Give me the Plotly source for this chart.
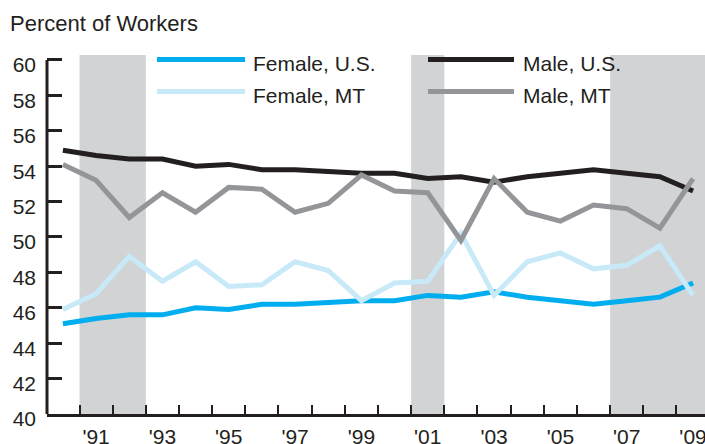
import plotly.graph_objects as go

years = list(range(1990, 2010))
female_us = [45.1, 45.4, 45.6, 45.6, 46.0, 45.9, 46.2, 46.2, 46.3, 46.4,
             46.4, 46.7, 46.6, 46.9, 46.6, 46.4, 46.2, 46.4, 46.6, 47.4]
female_mt = [45.9, 46.8, 48.9, 47.5, 48.6, 47.2, 47.3, 48.6, 48.1, 46.4,
             47.4, 47.5, 50.2, 46.7, 48.6, 49.1, 48.2, 48.4, 49.5, 46.7]
male_us = [54.9, 54.6, 54.4, 54.4, 54.0, 54.1, 53.8, 53.8, 53.7, 53.6,
           53.6, 53.3, 53.4, 53.1, 53.4, 53.6, 53.8, 53.6, 53.4, 52.6]
male_mt = [54.1, 53.2, 51.1, 52.5, 51.4, 52.8, 52.7, 51.4, 51.9, 53.5,
           52.6, 52.5, 49.8, 53.3, 51.4, 50.9, 51.8, 51.6, 50.5, 53.3]
recessions = [(1990.5, 1992.5), (2000.5, 2001.5), (2006.5, 2009.5)]
tick_years = list(range(1991, 2010, 2))
tick_labels = ["'%02d" % (y % 100) for y in tick_years]
y_ticks = list(range(40, 61, 2))

W, H = 705, 444
ML, MR, MT, MB = 47, 0, 55, 30
FONT = "Liberation Sans, Arial, sans-serif"
TXT = "#231f20"

C_FUS = "#00aeef"
C_FMT = "#c8e9f8"
C_MUS = "#231f20"
C_MMT = "#939598"
C_BAND = "#d1d3d4"


def px_x(p):
    return (p - ML) / (W - ML - MR)


def px_y(p):
    return (H - MB - p) / (H - MT - MB)


fig = go.Figure()
series = [("Female, U.S.", female_us, C_FUS),
          ("Male, U.S.", male_us, C_MUS),
          ("Female, MT", female_mt, C_FMT),
          ("Male, MT", male_mt, C_MMT)]
for name, vals, col in series:
    fig.add_trace(go.Scatter(x=years, y=vals, mode="lines", name=name,
                             line=dict(color=col, width=5),
                             showlegend=False, hoverinfo="skip"))

shapes = []
for x0, x1 in recessions:
    shapes.append(dict(type="rect", xref="x", yref="paper", x0=x0, x1=x1,
                       y0=0, y1=1, fillcolor=C_BAND, line=dict(width=0),
                       layer="below"))
# y axis line from 40 to 60
shapes.append(dict(type="line", xref="paper", yref="y", x0=0, x1=0,
                   y0=40, y1=60, line=dict(color=TXT, width=3), layer="above"))

# custom legend
legend_items = [("Female, U.S.", C_FUS, 157, 245, 59.5, 254),
                ("Female, MT", C_FMT, 157, 245, 91.5, 254),
                ("Male, U.S.", C_MUS, 428, 514, 59.5, 524),
                ("Male, MT", C_MMT, 428, 514, 91.5, 524)]
annotations = []
for name, col, lx0, lx1, ly, tx in legend_items:
    shapes.append(dict(type="line", xref="paper", yref="paper",
                       x0=px_x(lx0), x1=px_x(lx1), y0=px_y(ly), y1=px_y(ly),
                       line=dict(color=col, width=5), layer="above"))
    annotations.append(dict(xref="paper", yref="paper", x=px_x(tx - 3),
                            y=px_y(ly + 4), xanchor="left", yanchor="middle",
                            text=name, showarrow=False,
                            font=dict(family=FONT, size=21, color=TXT)))

fig.update_layout(
    template="none",
    width=W, height=H,
    margin=dict(l=ML, r=MR, t=MT, b=MB, pad=0, autoexpand=False),
    paper_bgcolor="white", plot_bgcolor="white",
    font=dict(family=FONT, size=21, color=TXT),
    title=dict(text="Percent of Workers", x=10 / W, xanchor="left",
               xref="container", y=1 - 23 / H, yanchor="middle",
               font=dict(family=FONT, size=22, color=TXT)),
    shapes=shapes, annotations=annotations,
    xaxis=dict(range=[1989.52, 2009.36], showgrid=False, zeroline=False,
               automargin=False,
               showline=True, linecolor=TXT, linewidth=3,
               tickmode="array", tickvals=tick_years, ticktext=tick_labels,
               ticks="", ticklabelstandoff=2, ticklabeloverflow="allow",
               tickfont=dict(family=FONT, size=21, color=TXT),
               minor=dict(tickmode="array",
                          tickvals=[y + 0.5 for y in range(1990, 2009)],
                          ticks="inside", ticklen=9, tickwidth=2.2,
                          tickcolor=TXT, showgrid=False)),
    yaxis=dict(range=[40, 60.28], showgrid=False, zeroline=False,
               automargin=False,
               showline=False, tickmode="array", tickvals=y_ticks,
               ticks="inside", ticklen=15, tickwidth=3, tickcolor=TXT,
               ticklabelstandoff=10, ticklabelshift=5,
               tickfont=dict(family=FONT, size=21, color=TXT)),
)

fig.write_html("out.html",
               config={"displayModeBar": False},
               post_script="document.body.style.margin='0';"
                           "document.body.style.overflow='hidden';")
